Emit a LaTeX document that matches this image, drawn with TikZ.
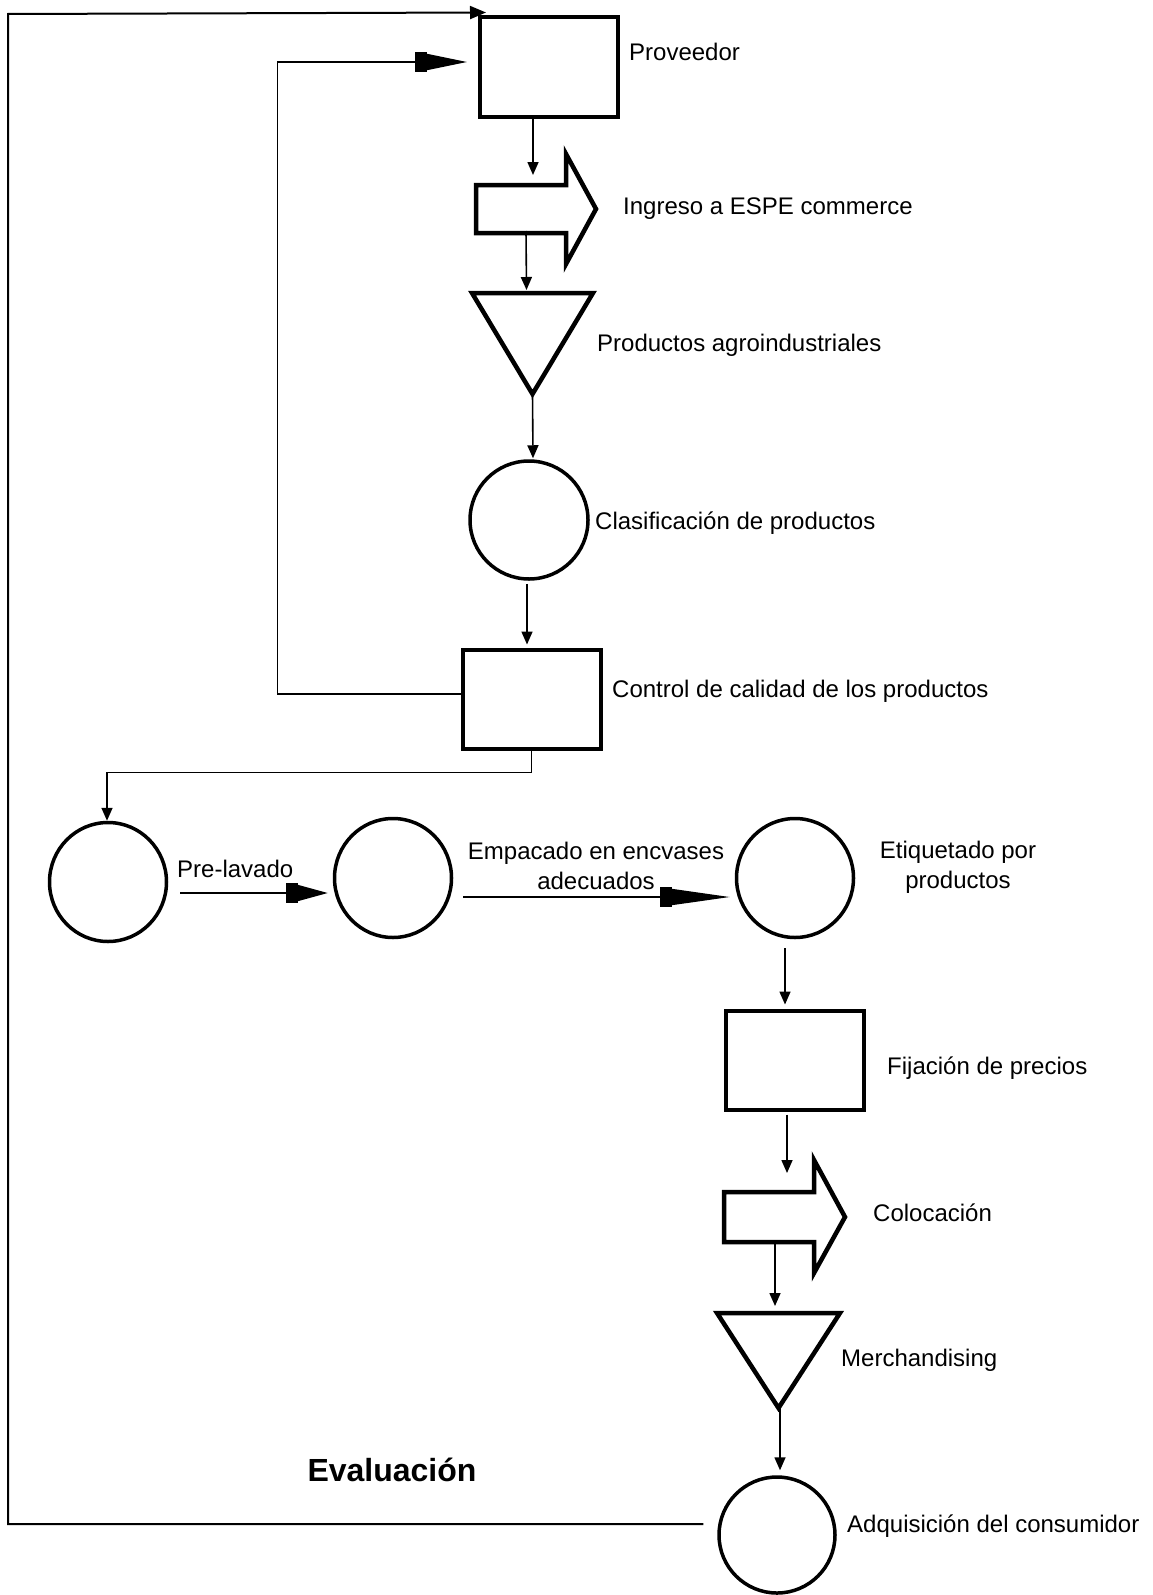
\documentclass[tikz,border=0pt]{standalone}
\usepackage{fontspec}
\setmainfont{Liberation Sans}
\usetikzlibrary{shapes.geometric,arrows.meta,calc}

\begin{document}
\begin{tikzpicture}[x=1pt,y=-1pt,
  main node/.style={draw,line width=4pt,minimum width=138pt,minimum height=99pt,inner sep=0pt},
  circ node/.style={draw,ellipse,line width=3.5pt,minimum width=117pt,minimum height=119pt,inner sep=0pt},
  ghost node/.style={inner sep=0pt,outer sep=0pt},
  text node/.style={anchor=base west,inner sep=0pt,font=\fontsize{24}{30}\selectfont},
  shape line/.style={line width=4.5pt,line join=miter},
  conn/.style={line width=1.6pt,-{Triangle[length=13pt,width=11pt]}},
  long conn/.style={line width=1.6pt,-{Rectangle[length=12pt,width=20pt,sep=0pt]Triangle[length=#1,width=16pt]}},
  long conn/.default=40pt]

  \path[fill=white,use as bounding box] (0,0) rectangle (1153,1595);

  \node[main node] (0) at (549,67){};
  \node[ghost node,minimum width=90pt,minimum height=48pt] (1) at (521,209){};
  \node[ghost node,minimum width=121pt,minimum height=101pt] (2) at (532.5,343.5){};
  \node[circ node,minimum width=118pt,minimum height=118pt] (3) at (529,520){};
  \node[main node] (4) at (531.5,699){};
  \node[circ node] (5) at (108,882){};
  \node[circ node] (6) at (393,878){};
  \node[circ node] (7) at (795,878){};
  \node[main node] (8) at (795,1060){};
  \node[ghost node,minimum width=90pt,minimum height=48pt] (9) at (769,1217){};
  \node[ghost node,minimum width=123pt,minimum height=95pt] (10) at (778.5,1360.5){};
  \node[circ node,minimum width=116pt,minimum height=116pt] (11) at (777,1535){};

  \draw[shape line,shift={(1.center)}] (-45,-24) -- (45,-24) -- (45,-55) -- (75,0) -- (45,55) -- (45,24) -- (-45,24) -- cycle;
  \draw[shape line,shift={(9.center)}] (-45,-25) -- (45,-25) -- (45,-57) -- (76,0) -- (45,56) -- (45,25) -- (-45,25) -- cycle;
  \draw[shape line] (2.north west) -- (2.north east) -- (2.south) -- cycle;
  \draw[shape line] (10.north west) -- (10.north east) -- (10.south) -- cycle;

  \node[text node] (t0) at (629,61){Proveedor};
  \node[text node] (t1) at (623,214){Ingreso a ESPE commerce};
  \node[text node] (t2) at (597,351){Productos agroindustriales};
  \node[text node] (t3) at (595,529){Clasificación de productos};
  \node[text node] (t4) at (612,697){Control de calidad de los productos};
  \node[text node] (t5) at (177,877){Pre-lavado};
  \node[text node,anchor=center,align=center] (t6) at (596,866){Empacado en encvases\\adecuados};
  \node[text node,anchor=center,align=center] (t7) at (958,867){Etiquetado por\\productos};
  \node[text node] (t8) at (887,1074){Fijación de precios};
  \node[text node] (t9) at (873,1221){Colocación};
  \node[text node] (t10) at (841,1366){Merchandising};
  \node[text node] (t11) at (847,1532){Adquisición del consumidor};
  \node[inner sep=0pt,font=\fontsize{32}{38}\selectfont\bfseries] (t12) at (392,1470){Evaluación};

  \draw[conn] ($(0.south)+(-16,0)$) -- ($(1.north)+(12,-10)$);
  \draw[conn] ($(1.south)+(5,-2)$) -- ($(2.north)+(-6,-3)$);
  \draw[conn] (2.south) -- ($(3.north)+(4,-1)$);
  \draw[conn] ($(3.south)+(-2,3)$) -- ($(4.north)+(-4.5,-3)$);
  \draw[conn] (4.south) -- ++(0,22) -| ($(5.north)+(-1,0)$);
  \draw[long conn=40pt] ($(4.west)+(0,-5)$) -- ++(-183,0) |- ($(0.west)+(-11,-5)$);
  \draw[long conn=30pt] ($(5.east)+(12,11)$) -- ($(6.west)+(-5,15)$);
  \draw[long conn=58pt] ($(6.east)+(10,19)$) -- ($(7.west)+(-5,19)$);
  \draw[conn] ($(7.south)+(-10,9)$) -- ($(8.north)+(-10,-4)$);
  \draw[conn] ($(8.south)+(-8,3)$) -- ($(9.north)+(18,-20)$);
  \draw[conn] ($(9.south)+(6,-1)$) -- ($(10.north)+(-3.5,-7)$);
  \draw[conn] ($(10.south)+(1.5,0)$) -- ($(11.north)+(3,-5)$);

  \coordinate (c0) at (8,14);
  \draw[line width=2pt,-{Triangle[length=16pt,width=13pt]}] ($(11.west)+(-14,-11)$) -| (c0) -- ($(0.north west)+(8,-3)$);
\end{tikzpicture}
\end{document}
